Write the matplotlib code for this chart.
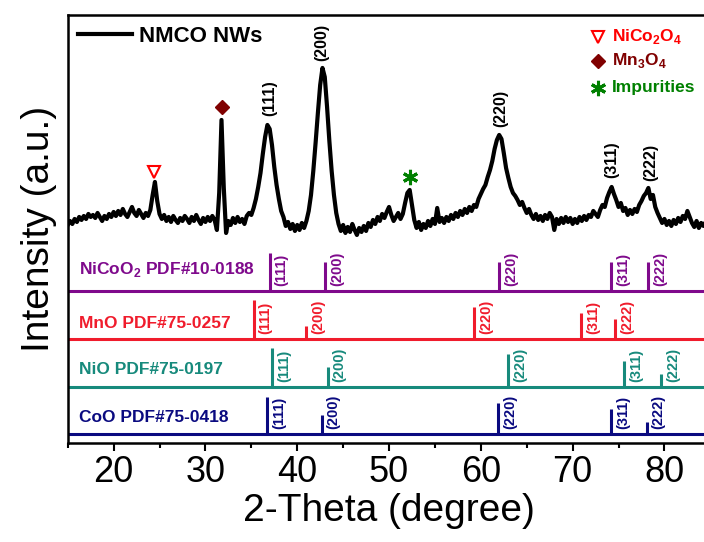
import matplotlib
matplotlib.use('Agg')
import matplotlib.pyplot as plt
import numpy as np
from matplotlib.ticker import MultipleLocator

plt.rcParams['font.family'] = 'Liberation Sans'
plt.rcParams['mathtext.fontset'] = 'custom'
plt.rcParams['mathtext.rm'] = 'Liberation Sans'
plt.rcParams['mathtext.bf'] = 'Liberation Sans:bold'

# measured pattern, 2-theta from 15 deg in 0.25 deg steps (one row per degree)
intensity = [
    218, 222, 219, 224,  # 15
    221, 226, 223, 227,  # 16
    224, 229, 226, 228,  # 17
    225, 230, 226, 222,  # 18
    227, 224, 229, 226,  # 19
    231, 227, 232, 228,  # 20
    234, 229, 226, 231,  # 21
    236, 230, 227, 233,  # 22
    229, 225, 230, 227,  # 23
    233, 248, 261, 242,  # 24
    229, 224, 228, 222,  # 25
    226, 221, 227, 223,  # 26
    220, 225, 222, 227,  # 27
    224, 220, 226, 222,  # 28
    228, 223, 219, 225,  # 29
    221, 226, 222, 227,  # 30
    223, 213, 250, 323,  # 31
    255, 210, 222, 218,  # 32
    225, 220, 226, 221,  # 33
    224, 219, 227, 230,  # 34
    228, 235, 244, 256,  # 35
    270, 289, 306, 318,  # 36
    314, 298, 276, 258,  # 37
    244, 232, 226, 217,  # 38
    221, 214, 219, 212,  # 39
    218, 213, 220, 215,  # 40
    222, 232, 248, 272,  # 41
    300, 330, 358, 375,  # 42
    366, 336, 302, 272,  # 43
    248, 230, 219, 212,  # 44
    218, 210, 216, 211,  # 45
    219, 213, 208, 215,  # 46
    211, 217, 212, 220,  # 47
    216, 223, 219, 226,  # 48
    222, 229, 225, 231,  # 49
    236, 228, 222, 226,  # 50
    230, 224, 229, 240,  # 51
    250, 253, 238, 223,  # 52
    215, 221, 213, 219,  # 53
    215, 222, 217, 224,  # 54
    219, 235, 221, 225,  # 55
    220, 226, 222, 228,  # 56
    224, 230, 226, 232,  # 57
    228, 234, 230, 236,  # 58
    232, 238, 236, 244,  # 59
    249, 254, 258, 266,  # 60
    273, 282, 294, 303,  # 61
    308, 304, 290, 275,  # 62
    265, 256, 250, 247,  # 63
    243, 238, 241, 235,  # 64
    230, 234, 228, 224,  # 65
    229, 223, 227, 222,  # 66
    228, 224, 230, 226,  # 67
    213, 224, 219, 225,  # 68
    220, 226, 221, 225,  # 69
    219, 224, 220, 226,  # 70
    222, 227, 223, 228,  # 71
    226, 232, 229, 226,  # 72
    233, 238, 236, 245,  # 73
    251, 256, 249, 243,  # 74
    236, 240, 232, 235,  # 75
    228, 233, 229, 234,  # 76
    231, 238, 242, 247,  # 77
    250, 255, 244, 248,  # 78
    236, 230, 225, 220,  # 79
    224, 218, 222, 217,  # 80
    223, 219, 225, 221,  # 81
    227, 224, 232, 226,  # 82
    220, 216, 222, 215,  # 83
    220, 217, 221, 218,  # 84
    220,                 # 85
]
two_theta = 15 + 0.25 * np.arange(len(intensity))

# standard reference patterns (position, relative stick height)
hkl = ['(111)', '(200)', '(220)', '(311)', '(222)']
nicoo2_pos = [37.0, 43.0, 62.0, 74.2, 78.25]
nicoo2_h = [38, 29, 29, 29, 29]
mno_pos = [35.25, 40.95, 59.3, 70.9, 74.6]
mno_h = [39, 13, 32, 26, 20]
nio_pos = [37.25, 43.3, 63.0, 75.6, 79.6]
nio_h = [39, 20, 33, 26, 13]
coo_pos = [36.7, 42.65, 61.85, 74.15, 78.05]
coo_h = [37, 19, 31, 25, 12]

# peak indexing of the sample
peak_pos = [37.0, 42.7, 62.2, 74.25, 78.5]
peak_lab_y = [345, 401, 335, 283, 281]

fig = plt.figure(figsize=(7.04, 5.42), dpi=100)
ax = fig.add_axes([0.0962, 0.1827, 0.9128, 0.7897])

ax.plot(two_theta, intensity, color='k', lw=3.0, label='NMCO NWs')

refs = [
    (r'NiCoO$_\mathbf{2}$ PDF#10-0188', nicoo2_pos, nicoo2_h, 152, 21, '#7f0a8c'),
    ('MnO PDF#75-0257', mno_pos, mno_h, 104, 15, '#f01c2c'),
    ('NiO PDF#75-0197', nio_pos, nio_h, 56, 17, '#178a7c'),
    ('CoO PDF#75-0418', coo_pos, coo_h, 9, 16, '#0a0a80'),
]
for name, pos, h, base, dy, c in refs:
    ax.axhline(base, color=c, lw=2.2)
    ax.vlines(pos, base, np.array(h) + base, color=c, lw=2.2)
    for p, lab in zip(pos, hkl):
        ax.text(p + 0.55, base + 5, lab, rotation=90, ha='left', va='bottom',
                fontsize=10.5, fontweight='bold', color=c)
    ax.text(16.2, base + dy, name, ha='left', va='center', fontsize=12.5,
            fontweight='bold', color=c)

for p, y, lab in zip(peak_pos, peak_lab_y, hkl):
    ax.text(p, y, lab, rotation=90, ha='center', va='center', fontsize=11.5,
            fontweight='bold', color='k')

# phase markers on the curve
ax.plot(24.4, 271, marker='v', ms=9, mfc='none', mec='#ff0000', mew=1.5)
ax.plot(31.8, 336, marker='D', ms=7.5, color='#800000')
ax.plot(52.3, 266, marker=(6, 2, 0), ms=11, mec='#008000', mew=2.2)

# marker key, top right
ax.plot(72.77, 406, marker='v', ms=9, mfc='none', mec='#ff0000', mew=1.5)
ax.text(74.3, 406, r'NiCo$_\mathbf{2}$O$_\mathbf{4}$', ha='left', va='center',
        fontsize=12.5, fontweight='bold', color='#ff0000')
ax.plot(72.77, 382, marker='D', ms=7.5, color='#800000')
ax.text(74.3, 382, r'Mn$_\mathbf{3}$O$_\mathbf{4}$', ha='left', va='center',
        fontsize=12.5, fontweight='bold', color='#800000')
ax.plot(72.77, 355, marker=(6, 2, 0), ms=11, mec='#008000', mew=2.2)
ax.text(74.3, 355, 'Impurities', ha='left', va='center',
        fontsize=12.5, fontweight='bold', color='#008000')

leg = ax.legend(loc='upper left', bbox_to_anchor=(0.016, 0.974), frameon=False,
                borderaxespad=0, borderpad=0, handlelength=2.45, handletextpad=0.3,
                prop={'weight': 'bold', 'size': 16})

ax.set_xlim(15, 85)
ax.set_ylim(0, 428)
ax.set_yticks([])
ax.set_xticks(range(20, 81, 10))
ax.xaxis.set_minor_locator(MultipleLocator(5))
ax.tick_params(axis='x', which='major', direction='out', length=6, width=1.5,
               labelsize=26, pad=3)
ax.tick_params(axis='x', which='minor', direction='out', length=3.5, width=1.5)
for s in ax.spines.values():
    s.set_linewidth(1.8)

ax.set_xlabel('2-Theta (degree)', fontsize=28, labelpad=2)
ax.set_ylabel('Intensity (a.u.)', fontsize=28, labelpad=8)

fig.savefig('out.png', dpi=100)
